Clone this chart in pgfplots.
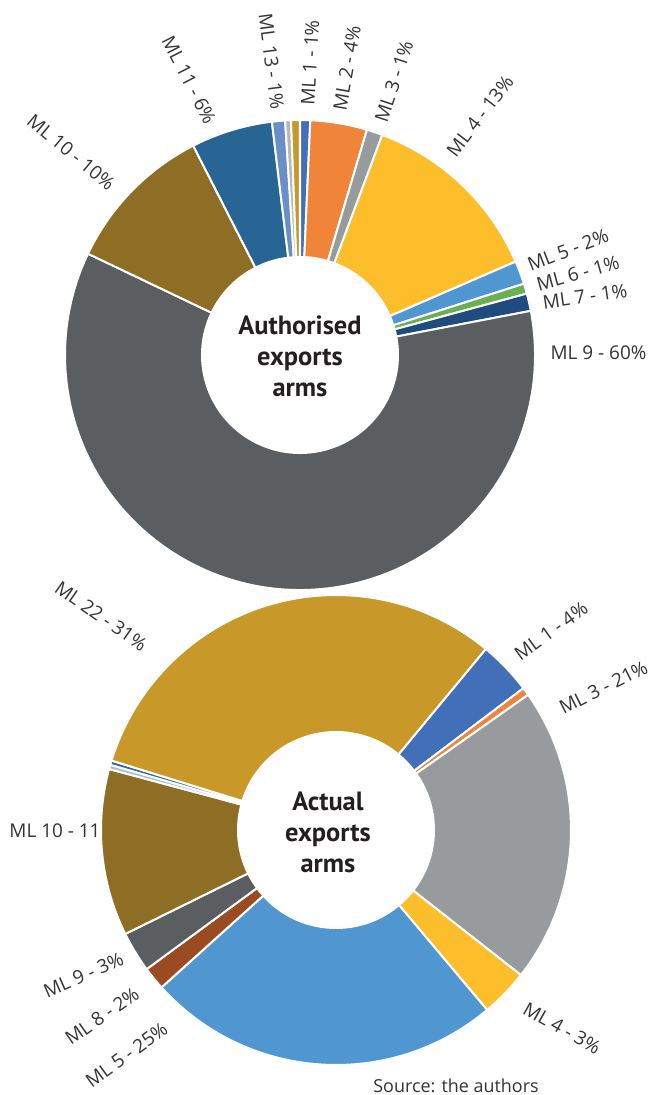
\documentclass[border=0pt]{standalone}
\usepackage{fontspec}
\setmainfont{Open Sans}
\newfontfamily\titlefont{PT Sans}
\usepackage{pgfplots}
\usepackage{pgfplotstable}
\pgfplotsset{compat=1.18}

\definecolor{cMLa}{HTML}{4270B8}
\definecolor{cOrange}{HTML}{F0853A}
\definecolor{cGray}{HTML}{989B9E}
\definecolor{cYellow}{HTML}{FDBE2C}
\definecolor{cLBlue}{HTML}{5097D1}
\definecolor{cGreen}{HTML}{6BAF50}
\definecolor{cNavy}{HTML}{1F4B7F}
\definecolor{cDGray}{HTML}{5A5E60}
\definecolor{cBrown}{HTML}{8E6E24}
\definecolor{cBlue}{HTML}{276594}
\definecolor{cSteel}{HTML}{6A8EC7}
\definecolor{cLGray}{HTML}{B4B6B8}
\definecolor{cGold}{HTML}{C89828}
\definecolor{cRust}{HTML}{9A4B22}
\definecolor{cTinyBlue}{HTML}{2E6CA8}
\definecolor{cPale}{HTML}{A9BCD0}
\definecolor{labgray}{HTML}{333333}
\definecolor{titleblack}{HTML}{231F20}

% Authorised exports (clockwise from 12 o'clock)
\pgfplotstableread{
label value color
ML1 0.7 cMLa
ML2 3.9 cOrange
ML3 1.1 cGray
ML4 12.8 cYellow
ML5 1.6 cLBlue
ML6 0.7 cGreen
ML7 1.2 cNavy
ML9 60.1 cDGray
ML10 10.4 cBrown
ML11 5.6 cBlue
ML13 0.9 cSteel
MLx 0.4 cLGray
ML22 0.6 cGold
}\topdata

% Actual exports (clockwise, starting at 39.6 deg)
\pgfplotstableread{
label value color
ML1 3.7 cMLa
ML2 0.55 cOrange
ML3 20.4 cGray
ML4 3.3 cYellow
ML5 24.5 cLBlue
ML8 1.6 cRust
ML9 2.8 cDGray
ML10 11.5 cBrown
MLa 0.3 cPale
MLb 0.3 cTinyBlue
ML22 31.3 cGold
}\botdata

\def\Rout{235}
\def\Rin{98}
\def\Rdiff{137}

\newcommand\drawdonut[4]{%
  \pgfplotstablegetrowsof{#1}%
  \pgfmathtruncatemacro{\lastrow}{\pgfplotsretval-1}%
  \gdef\dtotal{0}%
  \foreach \i in {0,...,\lastrow}{%
    \pgfplotstablegetelem{\i}{value}\of{#1}%
    \pgfmathparse{\dtotal+\pgfplotsretval}%
    \xdef\dtotal{\pgfmathresult}%
  }%
  \xdef\dcur{#4}%
  \foreach \i in {0,...,\lastrow}{%
    \pgfplotstablegetelem{\i}{value}\of{#1}%
    \pgfmathsetmacro{\aone}{90-\dcur}%
    \pgfmathsetmacro{\newcur}{\dcur+\pgfplotsretval/\dtotal*360}%
    \pgfmathsetmacro{\atwo}{90-\newcur}%
    \xdef\dcur{\newcur}%
    \pgfplotstablegetelem{\i}{color}\of{#1}%
    \edef\cmd{\noexpand\fill[fill=\pgfplotsretval,draw=white,line width=2bp] (axis cs:#2,#3) ++(\aone:\Rout bp) arc[start angle=\aone,end angle=\atwo,radius=\Rout bp] -- ++(\atwo+180:\Rdiff bp) arc[start angle=\atwo,end angle=\aone,radius=\Rin bp] -- cycle;}%
    \cmd
  }%
}

\tikzset{lab/.style={font=\fontsize{19}{21}\selectfont, text=labgray, inner sep=0pt, anchor=center}}

\begin{document}
\begin{tikzpicture}
\useasboundingbox (0,0) rectangle (651bp,1095bp);
\begin{axis}[x=1bp, y=1bp, xmin=0, xmax=651, ymin=0, ymax=1095,
  hide axis, clip=false, anchor=south west, at={(0,0)}]

% labels, authorised
\node[lab, rotate=-62.9] at (axis cs:189,1015) {ML 11 - 6\%};
\node[lab, rotate=-82.6] at (axis cs:271.5,1033.5) {ML 13 - 1\%};
\node[lab, rotate=86.7] at (axis cs:310,1032.5) {ML 1 - 1\%};
\node[lab, rotate=80] at (axis cs:347,1027) {ML 2 - 4\%};
\node[lab, rotate=71.8] at (axis cs:394,1013.5) {ML 3 - 1\%};
\node[lab, rotate=52.4] at (axis cs:480,979) {ML 4 - 13\%};
\node[lab, rotate=21.1] at (axis cs:568,845) {ML 5 - 2\%};
\node[lab, rotate=15.5] at (axis cs:578,821.5) {ML 6 - 1\%};
\node[lab, rotate=8.1] at (axis cs:585,798.5) {ML 7 - 1\%};
\node[lab] at (axis cs:598.5,742.5) {ML 9 - 60\%};
\node[lab, rotate=-39.6] at (axis cs:71,943) {ML 10 - 10\%};

% labels, actual
\node[lab, rotate=-34.9] at (axis cs:101,479) {ML 22 - 31\%};
\node[lab, rotate=35.9] at (axis cs:551,464) {ML 1 - 4\%};
\node[lab, rotate=26.6] at (axis cs:603.5,407.5) {ML 3 - 21\%};
\node[lab, rotate=-29.4] at (axis cs:562,67) {ML 4 - 3\%};
\node[lab, rotate=23.8] at (axis cs:83.5,120) {ML 9 - 3\%};
\node[lab, rotate=35] at (axis cs:102,79) {ML 8 - 2\%};
\node[lab, rotate=36.3] at (axis cs:126.5,40) {ML 5 - 25\%};
\node[lab] at (axis cs:55,264.5) {ML 10 - 11};

\drawdonut{\topdata}{300}{740}{0}
\drawdonut{\botdata}{336}{265}{39.6}

\node[font=\titlefont\bfseries\fontsize{26.5}{31}\selectfont, text=titleblack, align=center, inner sep=0pt] at (axis cs:300,739) {Authorised\\exports\\arms};
\node[font=\titlefont\bfseries\fontsize{26.5}{31}\selectfont, text=titleblack, align=center, inner sep=0pt] at (axis cs:328,263) {Actual\\exports\\arms};

\node[font=\fontsize{18}{20}\selectfont, text=labgray, inner sep=0pt] at (axis cs:456,9) {Source: the authors};
\end{axis}
\end{tikzpicture}
\end{document}
